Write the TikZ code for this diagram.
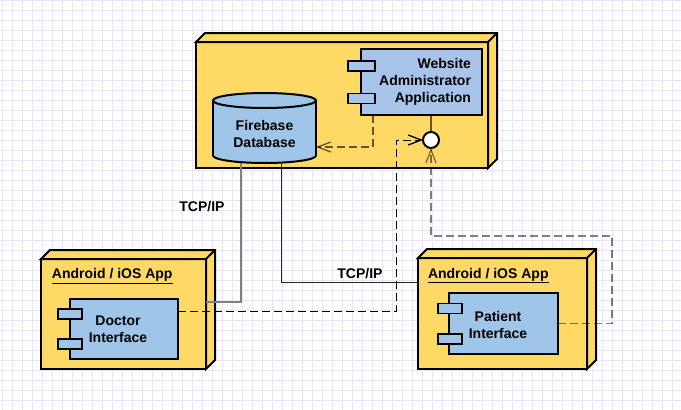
\documentclass[tikz,border=0pt]{standalone}
\usepackage{fontspec}
\setmainfont{Liberation Sans}
\usetikzlibrary{arrows.meta,calc}
\definecolor{nodeY}{HTML}{FFD966}
\definecolor{compB}{HTML}{A9C4EB}
\definecolor{compC}{HTML}{9FC5E8}
\definecolor{gridC}{HTML}{E6E6F8}
\definecolor{tcpC}{HTML}{808080}
\newcommand\dnodebox[2]{%
  \filldraw[fill=nodeY, line width=2pt, line join=miter]
    (#1.north west) -- ++(#2,-#2) -- ($(#1.north east)+(#2,-#2)$) -- ($(#1.south east)+(#2,-#2)$) -- (#1.south east) -- (#1.north east) -- cycle;
  \draw[line width=2pt] (#1.north east) -- ++(#2,-#2);
}
\begin{document}
\begin{tikzpicture}[x=1pt,y=-1pt,
  font=\fontsize{14}{17}\selectfont\bfseries,
  box/.style={draw=black, line width=2pt, fill=nodeY, rectangle, inner sep=0pt, outer sep=0pt},
  comp/.style={draw=black, line width=2pt, rectangle, inner sep=0pt, outer sep=0pt, align=center},
  port/.style={draw=black, line width=1.6pt, fill=#1, minimum width=24pt, minimum height=10pt, inner sep=0pt, outer sep=0pt},
  txt/.style={inner sep=0pt, outer sep=0pt, align=center},
  tcp/.style={draw=tcpC, line width=1.8pt},
  tcpb/.style={draw=black!85, line width=1pt},
  dep/.style={line width=1pt, dash pattern=on 8pt off 4pt},
  openarrow/.style={-{Straight Barb[length=13pt,width=10pt,line width=1.3pt]}}
]
\useasboundingbox (0,0) rectangle (681,410);
\fill[white] (0,0) rectangle (681,410);
\foreach \x in {2.5,12.5,...,681} \draw[gridC, line width=0.9pt] (\x,0) -- (\x,410);
\foreach \y in {0.5,10.5,...,410} \draw[gridC, line width=0.9pt] (0,\y) -- (681,\y);

% server node
\node[box, minimum width=292pt, minimum height=126pt] (server) at (342,105) {};
\dnodebox{server}{9}

% doctor node
\node[box, minimum width=165pt, minimum height=110pt] (doc) at (123.5,314) {};
\dnodebox{doc}{9}
\node[txt, anchor=base west] (doclab) at (52,278.5) {\underline{Android / iOS App}};

% patient node
\node[box, minimum width=169pt, minimum height=111pt] (pat) at (502.5,313.5) {};
\dnodebox{pat}{9}
\node[txt, anchor=base west] (patlab) at (428,278) {\underline{Android / iOS App}};

% website component
\node[comp, fill=compB, minimum width=121pt, minimum height=66pt, text width=99pt, inner xsep=11pt, align=right] (web) at (421.5,82) {Website\\Administrator\\Application};
\node[port=compB, minimum width=27pt] (wp1) at (361.5,66) {};
\node[port=compB, minimum width=27pt] (wp2) at (361.5,98.5) {};

% database cylinder
\node[minimum width=103pt, minimum height=70pt, inner sep=0pt, outer sep=0pt] (db) at (264.5,128) {};
\filldraw[fill=compC, line width=2pt] (264.5,155.5) ellipse [x radius=51.5, y radius=7.5];
\fill[compC] (213,100.5) rectangle (316,155.5);
\draw[line width=2pt] (213,100.5) -- (213,155.5) (316,100.5) -- (316,155.5);
\filldraw[fill=compC, line width=2pt] (264.5,100.5) ellipse [x radius=51.5, y radius=7.5];
\node[txt] (dbtxt) at (264.5,133.5) {Firebase\\Database};

% interface circle
\node[circle, draw=black, line width=2pt, fill=white, minimum size=16pt, inner sep=0pt, outer sep=0pt] (circ) at (431,140) {};

% doctor component
\node[comp, fill=compC, minimum width=108pt, minimum height=60pt] (dcomp) at (124,329) {};
\node[port=compC] (dp1) at (70,314) {};
\node[port=compC] (dp2) at (70,344) {};
\node[txt] (dtxt) at (118,329.5) {Doctor\\Interface};

% patient component
\node[comp, fill=compC, minimum width=109pt, minimum height=61pt] (pcomp) at (503.5,323.5) {};
\node[port=compC] (pp1) at (450,308.5) {};
\node[port=compC] (pp2) at (450,339) {};
\node[txt] (ptxt) at (498,324.5) {Patient\\Interface};

% TCP/IP connections
\draw[tcp] ([xshift=-23.5pt]db.south) |- ([yshift=12pt]doc.east);
\draw[tcpb] ([xshift=16.5pt]db.south) |- ([yshift=31pt]pat.west);
\node[txt] (tcp1) at (202,207) {TCP/IP};
\node[txt] (tcp2) at (360,274) {TCP/IP};

% website -> database
\draw[dep, openarrow, draw opacity=0.6, line width=1.5pt] ([xshift=-48.5pt]web.south) |- ([yshift=-19pt]db.east);
% website -- interface
\draw[line width=1.6pt, draw opacity=0.6] (circ.north |- web.south) -- (circ.north);

% doctor -> interface
\coordinate (dturn) at (396,311);
\draw[dep, openarrow] ([yshift=18pt]dcomp.east) -- (dturn) |- (circ.west);

% patient -> interface
\coordinate (pturn) at (612,236);
\draw[dep, openarrow, draw opacity=0.5, line width=1.4pt] (pcomp.east) -| (pturn) -| (circ.south);
\end{tikzpicture}
\end{document}
